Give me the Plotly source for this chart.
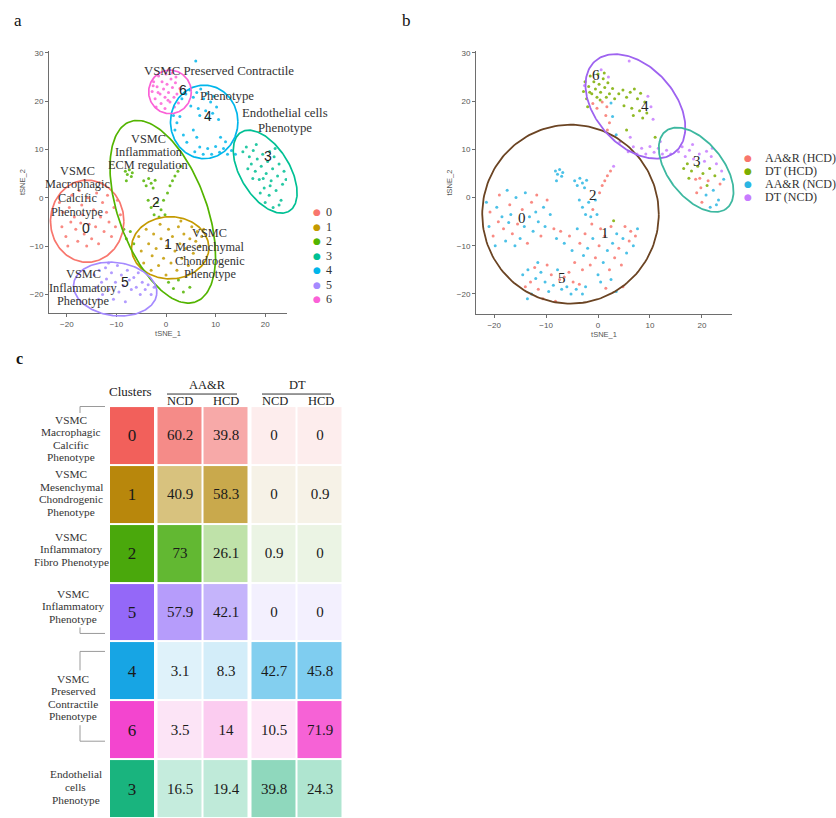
import numpy as np
import plotly.graph_objects as go

W, H = 836, 818
SERIF = "Liberation Serif"
SANS = "Liberation Sans"


def px(x):
    return x / W


def py(y):
    return 1 - y / H


# ---------------- data : t-SNE cells (x, y, sample) per cluster ----------------
# sample codes: A = AA&R (HCD), D = DT (HCD), N = AA&R (NCD), P = DT (NCD)
cells_c0 = [(-21.5, -1, "N"), (-20.8, -3, "A"), (-21, -6, "N"), (-20.2, -8, "A"), (-19.8, -10, "N"),
            (-19.5, -2, "N"), (-19, 0.5, "A"), (-18.5, -4, "N"), (-18.2, -6.5, "A"), (-17.8, -9, "N"),
            (-17.5, 1.5, "N"), (-17, -1.5, "A"), (-16.8, -3.5, "N"), (-16.5, -7.5, "A"), (-16, -10, "N"),
            (-15.8, 0, "N"), (-15.5, -5.5, "A"), (-15, -8.5, "N"), (-14.6, -2.5, "A"), (-14.2, -6, "N"),
            (-14, 1, "N"), (-13.6, -9.5, "A"), (-13.2, -4, "N"), (-12.8, -1, "A"), (-12.5, -7, "N"),
            (-12, -3, "N"), (-11.8, 0.5, "A"), (-11.5, -5, "N"), (-11, -8, "A"), (-10.5, -2, "N"),
            (-10.2, -6, "N"), (-9.8, -0.5, "A"), (-9.2, -3.5, "N"), (-19.2, -5, "A"), (-17.2, -5.2, "N")]
cells_c1 = [(-5.5, -8, "A"), (-5, -11, "N"), (-4.5, -13.5, "A"), (-4, -6.5, "N"), (-3.5, -9.5, "A"),
            (-3, -15, "A"), (-2.8, -12, "N"), (-2.5, -7.5, "A"), (-2, -10.5, "N"), (-1.5, -14, "A"),
            (-1.2, -5.5, "A"), (-1, -8.5, "N"), (-0.5, -12.5, "A"), (0, -16, "N"), (0.2, -10, "A"),
            (0.5, -6.5, "A"), (1, -13.5, "N"), (1.3, -8, "A"), (1.8, -11, "N"), (2.2, -15, "A"),
            (2.5, -6, "A"), (2.8, -9.5, "N"), (3.2, -12.5, "A"), (3.6, -7.5, "N"), (4, -10.5, "A"),
            (4.5, -14, "A"), (4.8, -8.5, "N"), (5.2, -6, "A"), (5.5, -11.5, "N"), (6, -9, "A"),
            (6.3, -7, "A"), (6.8, -10, "N"), (7.2, -8, "A"), (7.6, -6.5, "N"), (3, -4.8, "D")]
cells_c2 = [(-8.2, 5.5, "N"), (-7.8, 4.8, "N"), (-7.4, 5.8, "N"), (-7, 4.4, "N"), (-6.8, 5.2, "N"),
            (-8, 3.5, "N"), (-4.5, 3.5, "N"), (-4, 2.5, "N"), (-3.5, 4, "N"), (-3, 3, "N"),
            (-2.6, 2, "N"), (-2.2, 3.6, "N"), (-3.6, -0.5, "N"), (-3, -2, "N"), (-2.4, -3.5, "N"),
            (-1.8, -1, "N"), (-1.4, -4, "N"), (-1, -2.5, "A"), (-0.5, -0.5, "N"), (-0.2, -3.5, "N"),
            (0.3, 1, "A"), (0.8, 2.5, "A"), (1.3, 3.5, "A"), (1.8, 4.5, "A"), (2.4, 5.5, "A"),
            (3, 6.5, "P"), (-8.5, -6.5, "A"), (-8, -8.5, "N"), (-7.2, -7, "A"), (-6.5, -9.5, "N"),
            (0.5, -17.5, "N"), (1.5, -18.8, "A"), (2.5, -17, "N"), (3.5, -19.5, "N"), (4.8, -18.5, "A")]
cells_c3 = [(15.5, 9.5, "P"), (16.2, 10.5, "P"), (16.8, 8.5, "P"), (17.2, 7, "D"), (17.6, 9.8, "P"),
            (18, 5.5, "D"), (18.4, 8, "P"), (18.8, 3.8, "A"), (19.2, 6.5, "D"), (19.5, 9, "P"),
            (19.8, 2, "A"), (20.2, 5, "D"), (20.5, 7.5, "P"), (20.8, 0.5, "N"), (21.2, 3.5, "A"),
            (21.5, 6, "D"), (21.8, 8.5, "P"), (22.2, 1.5, "N"), (22.5, 4.5, "D"), (22.8, 7, "P"),
            (23.2, -0.5, "N"), (23.5, 2.8, "A"), (23.8, 5.5, "P"), (20, -1, "A"), (21.6, -2, "N"),
            (22.8, -1.5, "N"), (19, 1, "A"), (17.5, 4, "D"), (24.2, 3.8, "N"), (16.5, 6, "D"),
            (20.9, 9.6, "P"), (22, 10.2, "P"), (19.6, 4, "A"), (21, 2.5, "D"), (18.2, 11, "P")]
cells_c4 = [(4, 21.5, "D"), (4.8, 22.3, "D"), (5.5, 20.8, "D"), (6.2, 21.8, "D"), (7, 22.5, "D"),
            (7.6, 20.5, "D"), (8.2, 21.6, "D"), (9, 19.8, "D"), (9.6, 21, "P"), (5, 19, "D"),
            (6.5, 18.5, "D"), (8, 18, "D"), (9.4, 17.5, "D"), (10.2, 18.8, "P"), (6.8, 17, "D"),
            (8.6, 16.5, "D"), (10.6, 16.2, "P"), (1.5, 17, "A"), (2.2, 15.5, "A"), (2.8, 16.8, "N"),
            (1.8, 14, "A"), (3.5, 13, "N"), (4.2, 11.5, "P"), (5.5, 14, "D"), (6.2, 12.5, "P"),
            (5.8, 9.5, "P"), (6.8, 10.5, "P"), (7.5, 9, "P"), (8.4, 10.2, "P"), (9.2, 9, "P"),
            (10, 10.6, "P"), (10.8, 9.4, "P"), (11.6, 10.2, "P"), (12.4, 9, "P"), (13.2, 9.8, "P"),
            (14, 9, "P"), (11, 12.5, "D"), (12, 11.6, "P"), (6, 28.3, "P"), (3.2, 20.5, "D")]
cells_c5 = [(-14.5, -16, "N"), (-14, -18.5, "A"), (-13.5, -15, "N"), (-13, -17.5, "A"), (-12.8, -20, "N"),
            (-12.2, -14.5, "A"), (-12, -16.8, "N"), (-11.5, -19, "A"), (-11, -15.5, "N"), (-10.6, -21, "A"),
            (-10.2, -17.5, "N"), (-9.8, -14, "A"), (-9.5, -19.5, "N"), (-9, -16, "A"), (-8.6, -18.2, "N"),
            (-8.2, -21.5, "A"), (-7.8, -15, "N"), (-7.4, -17, "A"), (-7, -19, "N"), (-6.5, -16.5, "A"),
            (-6, -18.5, "N"), (-5.6, -15.5, "A"), (-5.2, -20, "N"), (-4.8, -17.5, "A"), (-4.2, -19, "N"),
            (-3.6, -18, "A"), (-3, -20, "N"), (-2.4, -18.5, "N"), (-13.6, -21, "N"), (-11.6, -13.5, "N")]
cells_c6 = [(-2.8, 22, "D"), (-2.5, 24, "D"), (-2.2, 20.5, "D"), (-1.8, 23, "D"), (-1.5, 25.2, "D"),
            (-1.2, 21.5, "D"), (-1, 19.5, "A"), (-0.8, 24, "D"), (-0.5, 22.5, "D"), (-0.2, 20.8, "D"),
            (0, 25.6, "D"), (0.2, 23.5, "D"), (0.5, 21.8, "D"), (0.8, 19.8, "A"), (1, 24.6, "D"),
            (1.3, 22.8, "D"), (1.6, 20.8, "D"), (1.9, 23.8, "D"), (2.2, 21.5, "D"), (2.5, 19.6, "N"),
            (2.8, 22.6, "D"), (-2, 18.8, "D"), (0.6, 26.5, "P"), (-1.6, 21.8, "D"), (1.2, 25.8, "D"),
            (-0.2, 18.5, "A"), (2.0, 25.0, "P"), (-2.6, 23.2, "P"), (0.4, 20.2, "D"), (1.7, 18.8, "A")]

cluster_ids = ["0", "1", "2", "3", "4", "5", "6"]
cluster_cells = [cells_c0, cells_c1, cells_c2, cells_c3, cells_c4, cells_c5, cells_c6]
cluster_colors = ["#F8766D", "#C49A00", "#53B400", "#00C094", "#00B6EB", "#A58AFF", "#FB61D7"]

sample_codes = ["A", "D", "N", "P"]
sample_names = ["AA&R (HCD)", "DT (HCD)", "AA&R (NCD)", "DT (NCD)"]
sample_colors = ["#F8766D", "#7CAE00", "#2BB6E3", "#C77CFF"]

# ---------------- table (panel c) ----------------
table_clusters = ["0", "1", "2", "5", "4", "6", "3"]
aar_ncd = [60.2, 40.9, 73, 57.9, 3.1, 3.5, 16.5]
aar_hcd = [39.8, 58.3, 26.1, 42.1, 8.3, 14, 19.4]
dt_ncd = [0, 0, 0.9, 0, 42.7, 10.5, 39.8]
dt_hcd = [0, 0.9, 0, 0, 45.8, 71.9, 24.3]

fill_cluster = ["#F2605B", "#B8870C", "#4AA80C", "#9468F8", "#17A5E4", "#F345CF", "#19B47E"]
fill_aar_ncd = ["#F58B88", "#D8C27E", "#62B832", "#B69CFB", "#DFF2FA", "#FCE4F6", "#C5ECDD"]
fill_aar_hcd = ["#F7A9A8", "#C9A94C", "#BFE2A9", "#C5B4FB", "#D3EDF9", "#FBCCF0", "#BFEAD9"]
fill_dt_ncd = ["#FDEDED", "#F6F2E7", "#EBF4E4", "#F3F0FE", "#83CFEF", "#FDE7F7", "#8FD8BD"]
fill_dt_hcd = ["#FDEDED", "#F6F2E7", "#EBF4E4", "#F3F0FE", "#7FCDF0", "#F662D6", "#AFE5D0"]

# ---------------- layout geometry ----------------
xa_dom, xa_rng = [px(49), px(287)], [-23.6, 24.4]
ya_dom, ya_rng = [py(312), py(49)], [-23.9, 30.4]
xb_dom, xb_rng = [px(476), px(732)], [-23.5, 25.8]
yb_dom, yb_rng = [py(313), py(49)], [-24.2, 30.4]


def extend(dom, rng, new_dom):
    s = (rng[1] - rng[0]) / (dom[1] - dom[0])
    return [rng[0] - (dom[0] - new_dom[0]) * s, rng[1] + (new_dom[1] - dom[1]) * s]


aux_a_x, aux_a_y = [0.0, 0.46], [0.55, 1.0]
aux_b_x, aux_b_y = [0.5, 1.0], [0.55, 1.0]

# ellipses (cx, cy, a, b, angle) in t-SNE units
ell_a = [(-15.9, -4.85, 7.4, 8.5, 0), (0.84, -10.36, 7.8, 6.44, 0), (-0.65, -2.9, 19.8, 8.9, -70.7),
         (20.0, 5.4, 9.5, 5.0, -59.85), (7.7, 15.7, 6.8, 7.6, 0), (-10.25, -18.9, 8.45, 5.5, -8),
         (0.8, 21.9, 4.3, 4.5, 0)]
ell_b = [(-5.3, -3.45, 17.0, 18.55, 0), (7.2, 18.9, 12.2, 7.8, -53.2), (18.9, 5.75, 9.95, 5.43, -55.5)]
ell_b_colors = ["#6B4423", "#9E63F0", "#3DB8A0"]


def ellipse_xy(cx, cy, a, b, theta):
    t = np.linspace(0, 2 * np.pi, 181)
    th = np.deg2rad(theta)
    x = cx + a * np.cos(t) * np.cos(th) - b * np.sin(t) * np.sin(th)
    y = cy + a * np.cos(t) * np.sin(th) + b * np.sin(t) * np.cos(th)
    return x, y


fig = go.Figure()

# panel a points
for cid, cells, col in zip(cluster_ids, cluster_cells, cluster_colors):
    fig.add_trace(go.Scatter(x=[c[0] for c in cells], y=[c[1] for c in cells], mode="markers",
                             marker=dict(size=3, color=col, opacity=0.85), xaxis="x", yaxis="y",
                             hoverinfo="skip", showlegend=False))

# panel b points
all_cells = [c for cells in cluster_cells for c in cells]
for code, col in zip(sample_codes, sample_colors):
    sel = [c for c in all_cells if c[2] == code]
    fig.add_trace(go.Scatter(x=[c[0] for c in sel], y=[c[1] for c in sel], mode="markers",
                             marker=dict(size=3, color=col, opacity=0.85), xaxis="x2", yaxis="y2",
                             hoverinfo="skip", showlegend=False))

# ellipses
for e, col in zip(ell_a, cluster_colors):
    ex, ey = ellipse_xy(*e)
    fig.add_trace(go.Scatter(x=ex, y=ey, mode="lines", line=dict(color=col, width=1.7),
                             xaxis="x4", yaxis="y4", hoverinfo="skip", showlegend=False))
for e, col in zip(ell_b, ell_b_colors):
    ex, ey = ellipse_xy(*e)
    fig.add_trace(go.Scatter(x=ex, y=ey, mode="lines", line=dict(color=col, width=1.8),
                             xaxis="x5", yaxis="y5", hoverinfo="skip", showlegend=False))

# table heatmaps
row_edges = list(range(len(table_clusters) + 1))
n = len(table_clusters)
fig.add_trace(go.Heatmap(
    z=[[i] for i in range(n)], x=[0, 46], y=row_edges,
    colorscale=[[i / (n - 1), c] for i, c in enumerate(fill_cluster)], zmin=0, zmax=n - 1,
    text=[[c] for c in table_clusters], texttemplate="%{text}",
    textfont=dict(family=SERIF, size=17, color="#1a1a1a"),
    xgap=2, ygap=2, showscale=False, hoverinfo="skip", xaxis="x3", yaxis="y3"))

val_cols = [aar_ncd, aar_hcd, None, dt_ncd, dt_hcd]
fill_cols = [fill_aar_ncd, fill_aar_hcd, None, fill_dt_ncd, fill_dt_hcd]
colors_flat, z_rows, t_rows = [], [], []
for r in range(n):
    zr, tr = [], []
    for vals, fills in zip(val_cols, fill_cols):
        if vals is None:
            zr.append(None)
            tr.append("")
        else:
            zr.append(len(colors_flat))
            colors_flat.append(fills[r])
            tr.append(f"{vals[r]:g}")
    z_rows.append(zr)
    t_rows.append(tr)
m = len(colors_flat)
fig.add_trace(go.Heatmap(
    z=z_rows, x=[47.5, 93.5, 139.5, 141.5, 187.5, 233.5], y=row_edges,
    colorscale=[[i / (m - 1), c] for i, c in enumerate(colors_flat)], zmin=0, zmax=m - 1,
    text=t_rows, texttemplate="%{text}", textfont=dict(family=SERIF, size=15, color="#1a1a1a"),
    xgap=2, ygap=2, showscale=False, hoverinfo="skip", xaxis="x3", yaxis="y3"))

# ---------------- axes ----------------
def tsne_axis(dom, rng, anchor, tickvals, title, standoff):
    return dict(domain=dom, range=rng, anchor=anchor, showgrid=False, zeroline=False,
                showline=True, linecolor="#6e6e6e", linewidth=1, ticks="outside", ticklen=3,
                tickcolor="#6e6e6e", tickvals=tickvals,
                tickfont=dict(family=SANS, size=8, color="#555555"),
                title=dict(text=title, font=dict(family=SANS, size=7.5, color="#555555"),
                           standoff=standoff))


ticks_x = [-20, -10, 0, 10, 20]
ticks_y = [-20, -10, 0, 10, 20, 30]
hidden = dict(visible=False, showgrid=False, zeroline=False)

fig.update_layout(
    width=W, height=H, margin=dict(l=0, r=0, t=0, b=0),
    paper_bgcolor="white", plot_bgcolor="rgba(0,0,0,0)", showlegend=False, hovermode=False,
    xaxis=tsne_axis(xa_dom, xa_rng, "y", ticks_x, "tSNE_1", 2),
    yaxis=tsne_axis(ya_dom, ya_rng, "x", ticks_y, "tSNE_2", 3),
    xaxis2=tsne_axis(xb_dom, xb_rng, "y2", ticks_x, "tSNE_1", 2),
    yaxis2=tsne_axis(yb_dom, yb_rng, "x2", ticks_y, "tSNE_2", 3),
    xaxis3=dict(domain=[px(109), px(342.5)], range=[0, 233.5], anchor="y3", **hidden),
    yaxis3=dict(domain=[0, py(405)], range=[n, 0], anchor="x3", **hidden),
    xaxis4=dict(domain=aux_a_x, range=extend(xa_dom, xa_rng, aux_a_x), anchor="y4", **hidden),
    yaxis4=dict(domain=aux_a_y, range=extend(ya_dom, ya_rng, aux_a_y), anchor="x4", **hidden),
    xaxis5=dict(domain=aux_b_x, range=extend(xb_dom, xb_rng, aux_b_x), anchor="y5", **hidden),
    yaxis5=dict(domain=aux_b_y, range=extend(yb_dom, yb_rng, aux_b_y), anchor="x5", **hidden),
)

# ---------------- annotations ----------------
anns = []


def txt(text, x, y, size, family=SERIF, color="#333333", xanchor="center", xref="paper", yref="paper",
        bold=False):
    anns.append(dict(text=f"<b>{text}</b>" if bold else text, x=x, y=y, xref=xref, yref=yref,
                     showarrow=False, xanchor=xanchor, yanchor="middle",
                     font=dict(family=family, size=size, color=color)))


def block(lines, cx, y0, dy, size, color="#333333"):
    for i, line in enumerate(lines):
        txt(line, px(cx), py(y0 + i * dy), size, color=color)


# panel letters
txt("a", px(18), py(19), 17, color="#111")
txt("b", px(406), py(19), 17, color="#111")
txt("c", px(19), py(357), 16, color="#111", bold=True)

# panel a descriptive labels
block(["VSMC Preserved Contractile"], 219, 69, 0, 12.8)
block(["Phenotype"], 227, 94, 0, 12.8)
block(["Endothelial cells", "Phenotype"], 284.5, 111, 15, 12.8)
block(["VSMC", "Inflammation", "ECM regulation"], 148, 137, 13.3, 12.3)
block(["VSMC", "Macrophagic", "Calcific", "Phenotype"], 77, 169, 13.7, 12.3)
block(["VSMC", "Mesenchymal", "Chondrogenic", "Phenotype"], 210, 232, 13.7, 12.3)
block(["VSMC", "Inflammatory", "Phenotype"], 83, 273, 13.5, 12.3)

# panel a cluster numbers (data coords)
num_a = {"0": (-16.2, -6.2), "1": (0.3, -9.5), "2": (-2.1, -0.8), "3": (20.5, 8.7),
         "4": (8.4, 17.0), "5": (-8.2, -17.4), "6": (3.4, 22.3)}
for k, (x, y) in num_a.items():
    txt(k, x, y, 14, family=SANS, color="#222222", xref="x", yref="y")

# panel b cluster numbers (data coords)
num_b = {"6": (-0.4, 25.4), "4": (9.1, 19.0), "2": (-1.0, 0.6), "0": (-14.6, -4.3),
         "1": (1.3, -7.4), "5": (-6.9, -16.7), "3": (19.0, 7.6)}
for k, (x, y) in num_b.items():
    txt(k, x, y, 15, color="#222222", xref="x2", yref="y2")

# legends
for i, (cid, col) in enumerate(zip(cluster_ids, cluster_colors)):
    txt("●", px(317), py(210.7 + 14.5 * i), 9, family="DejaVu Sans", color=col)
    txt(cid, px(324), py(210.7 + 14.5 * i), 12, color="#333", xanchor="left")
for i, (name, col) in enumerate(zip(sample_names, sample_colors)):
    txt("●", px(748), py(156 + 13 * i), 9, family="DejaVu Sans", color=col)
    txt(name, px(763), py(156 + 13 * i), 12, color="#333", xanchor="left")

# table header
txt("Clusters", px(130.5), py(390), 13, color="#222")
txt("AA&amp;R", px(207), py(384), 12.5, color="#222")
txt("DT", px(297.5), py(384), 12.5, color="#222")
for label, cx in [("NCD", 180), ("HCD", 226), ("NCD", 275), ("HCD", 321)]:
    txt(label, px(cx), py(399.5), 12.5, color="#222")

# table row labels
block(["VSMC", "Macrophagic", "Calcific", "Phenotype"], 71, 419, 12.4, 11.3, color="#333")
block(["VSMC", "Mesenchymal", "Chondrogenic", "Phenotype"], 71, 473.3, 12.5, 11.3, color="#333")
block(["VSMC", "Inflammatory", "Fibro Phenotype"], 71, 536, 12.7, 11.3, color="#333")
block(["VSMC", "Inflammatory", "Phenotype"], 72.5, 593.3, 12.4, 11.3, color="#333")
block(["VSMC", "Preserved", "Contractile", "Phenotype"], 73, 678.3, 12.6, 11.3, color="#333")
block(["Endothelial", "cells", "Phenotype"], 75.5, 774.3, 12.9, 11.3, color="#333")

fig.update_layout(annotations=anns)

# header rules and brackets
shapes = []


def seg(x0, y0, x1, y1, color="#333333", width=1):
    shapes.append(dict(type="line", xref="paper", yref="paper", x0=px(x0), y0=py(y0), x1=px(x1),
                       y1=py(y1), line=dict(color=color, width=width)))


seg(167, 393, 237, 393)
seg(262, 393, 331, 393)
gray = "#9a9a9a"
seg(80, 405.5, 105, 405.5, gray)
seg(80, 405.5, 80, 412, gray)
seg(80, 627, 80, 633, gray)
seg(80, 633, 105, 633, gray)
seg(80, 651, 105, 651, gray)
seg(80, 651, 80, 670, gray)
seg(80, 725, 80, 741, gray)
seg(80, 741, 105, 741, gray)
fig.update_layout(shapes=shapes)

fig.write_html("out.html", config={"displayModeBar": False},
               post_script="document.body.style.margin='0';document.body.style.overflow='hidden';")
